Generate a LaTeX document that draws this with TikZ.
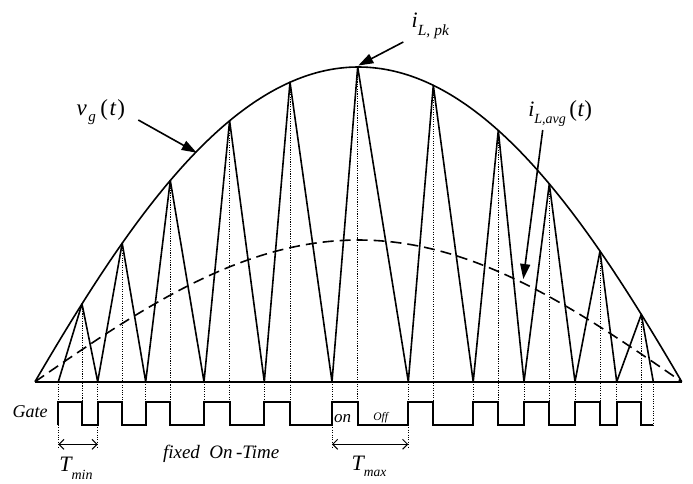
\documentclass[tikz,border=0pt]{standalone}
\usepackage{fontspec}
\setmainfont{Liberation Serif}
\usetikzlibrary{arrows.meta}
\begin{document}
\begin{tikzpicture}[x=1pt,y=-1pt,
  wave/.style={line width=1.6pt, line join=round},
  gatel/.style={line width=1.8pt, line join=miter},
  dotl/.style={line width=0.75pt, dash pattern=on 1.1pt off 1.3pt},
  lab/.style={inner sep=0pt, outer sep=0pt, anchor=base west},
  callout/.style={line width=1.6pt, -{Triangle[length=15pt,width=10pt]}},
  span/.style={line width=1pt, {Straight Barb[length=5pt,width=10pt]}-{Straight Barb[length=5pt,width=10pt]}}]
\useasboundingbox (0,0) rectangle (693,483);

% dotted guide lines from peaks
\foreach \p/\q in {82/303.86,122.2/243.18,170.3/180.47,229.6/120.79,290/82.23,357.7/67.0,433.3/85.32,498.3/130.45,549.3/183.91,600/251.10,641.3/314.40}
  \draw[dotl] (\p,\q) -- (\p,402.3);
% dotted guide lines from valleys
\foreach \v in {145.7,204,264.3,473.2,524,575,616.7}
  \draw[dotl] (\v,381.7) -- (\v,402.3);
\foreach \v in {58.3,97.7,332,408.3}
  \draw[dotl] (\v,381.7) -- (\v,447);
\draw[dotl] (653.3,381.7) -- (653.3,425);

% baseline
\coordinate (b0) at (35,381.7);
\coordinate (b1) at (681.7,381.7);
\draw[line width=2pt] (b0) -- (b1);

% envelope v_g(t)
\draw[wave] plot[domain=35:681.7, samples=220]
  (\x,{381.7-314.7*(1.12*sin(0.278336*(\x-35))-0.12*sin(0.278336*(\x-35))*sin(0.278336*(\x-35)))});

% average current
\draw[line width=1.6pt, dash pattern=on 11pt off 6pt]
  plot[domain=35:681.7, samples=150] (\x,{381.7-141.7*sin(0.278336*(\x-35))});

% inductor current triangles
\draw[wave] (58.3,381.7)
  \foreach \p/\q/\v in {82/303.86/97.7,122.2/243.18/145.7,170.3/180.47/204,229.6/120.79/264.3,290/82.23/332,357.7/67.0/408.3,433.3/85.32/473.2,498.3/130.45/524,549.3/183.91/575,600/251.10/616.7,641.3/314.40/653.3}
  { -- (\p,\q) -- (\v,381.7) };

% gate signal
\draw[gatel] (58.3,425)
  \foreach \p/\v in {82/97.7,122.2/145.7,170.3/204,229.6/264.3,290/332,357.7/408.3,433.3/473.2,498.3/524,549.3/575,600/616.7,641.3/653.3}
  { |- (\p,402.3) |- (\v,425) };

% labels
\node[lab, font=\fontsize{18}{18}\selectfont\itshape] (gate) at (12.7,417.3) {Gate};
\node[lab, font=\fontsize{19}{19}\selectfont\itshape] (fixed) at (163,458.3) {fixed\hspace{4.7pt} On\hspace{3.5pt}-Time};
\node[lab, font=\itshape] (tmin) at (59.3,471.7)
  {{\fontsize{22}{22}\selectfont T}\raisebox{-7.3pt}{\fontsize{14}{14}\selectfont min}};
\node[lab, font=\itshape] (tmax) at (351.7,470)
  {{\fontsize{22}{22}\selectfont T}\raisebox{-6.7pt}{\fontsize{13.5}{14}\selectfont max}};
\node[lab, font=\fontsize{17}{17}\selectfont\itshape] (on) at (334,422.3) {on};
\node[lab, font=\fontsize{11.5}{12}\selectfont\itshape] (off) at (373.3,420) {Off};

\node[lab, font=\itshape] (ipk) at (411.7,27.3)
  {{\fontsize{22}{22}\selectfont i}\raisebox{-7.7pt}{\fontsize{15.5}{16}\selectfont L,\hspace{4pt}pk}};
\node[lab, font=\itshape] (vg) at (76.7,115)
  {{\fontsize{23}{23}\selectfont v}\hspace{1.5pt}\raisebox{-6pt}{\fontsize{15}{15}\selectfont g}\hspace{4.5pt}{\fontsize{23}{23}\selectfont\upshape(\kern1.5pt{\itshape t}\kern1.5pt)}};
\node[lab, font=\itshape] (iavg) at (528.3,116)
  {{\fontsize{22}{22}\selectfont i}\raisebox{-7.3pt}{\fontsize{14}{14}\selectfont L,avg}\hspace{3.5pt}{\fontsize{23}{23}\selectfont\upshape(\kern0.5pt{\itshape t}\kern0.5pt)}};

% callout arrows
\coordinate (vgS) at (138.3,120);
\coordinate (vgE) at (196.7,152.7);
\draw[callout] (vgS) -- (vgE);
\coordinate (pkS) at (403.3,42);
\coordinate (pkE) at (358.3,65.5);
\draw[callout] (pkS) -- (pkE);
\coordinate (avS) at (542.7,130);
\coordinate (avE) at (523.3,279);
\draw[callout] (avS) -- (avE);

% time span arrows
\coordinate (tminL) at (58.3,444.3);
\coordinate (tminR) at (97.7,444.3);
\draw[span] (tminL) -- (tminR);
\coordinate (tmaxL) at (332,444.3);
\coordinate (tmaxR) at (408.3,444.3);
\draw[span] (tmaxL) -- (tmaxR);
\end{tikzpicture}
\end{document}
